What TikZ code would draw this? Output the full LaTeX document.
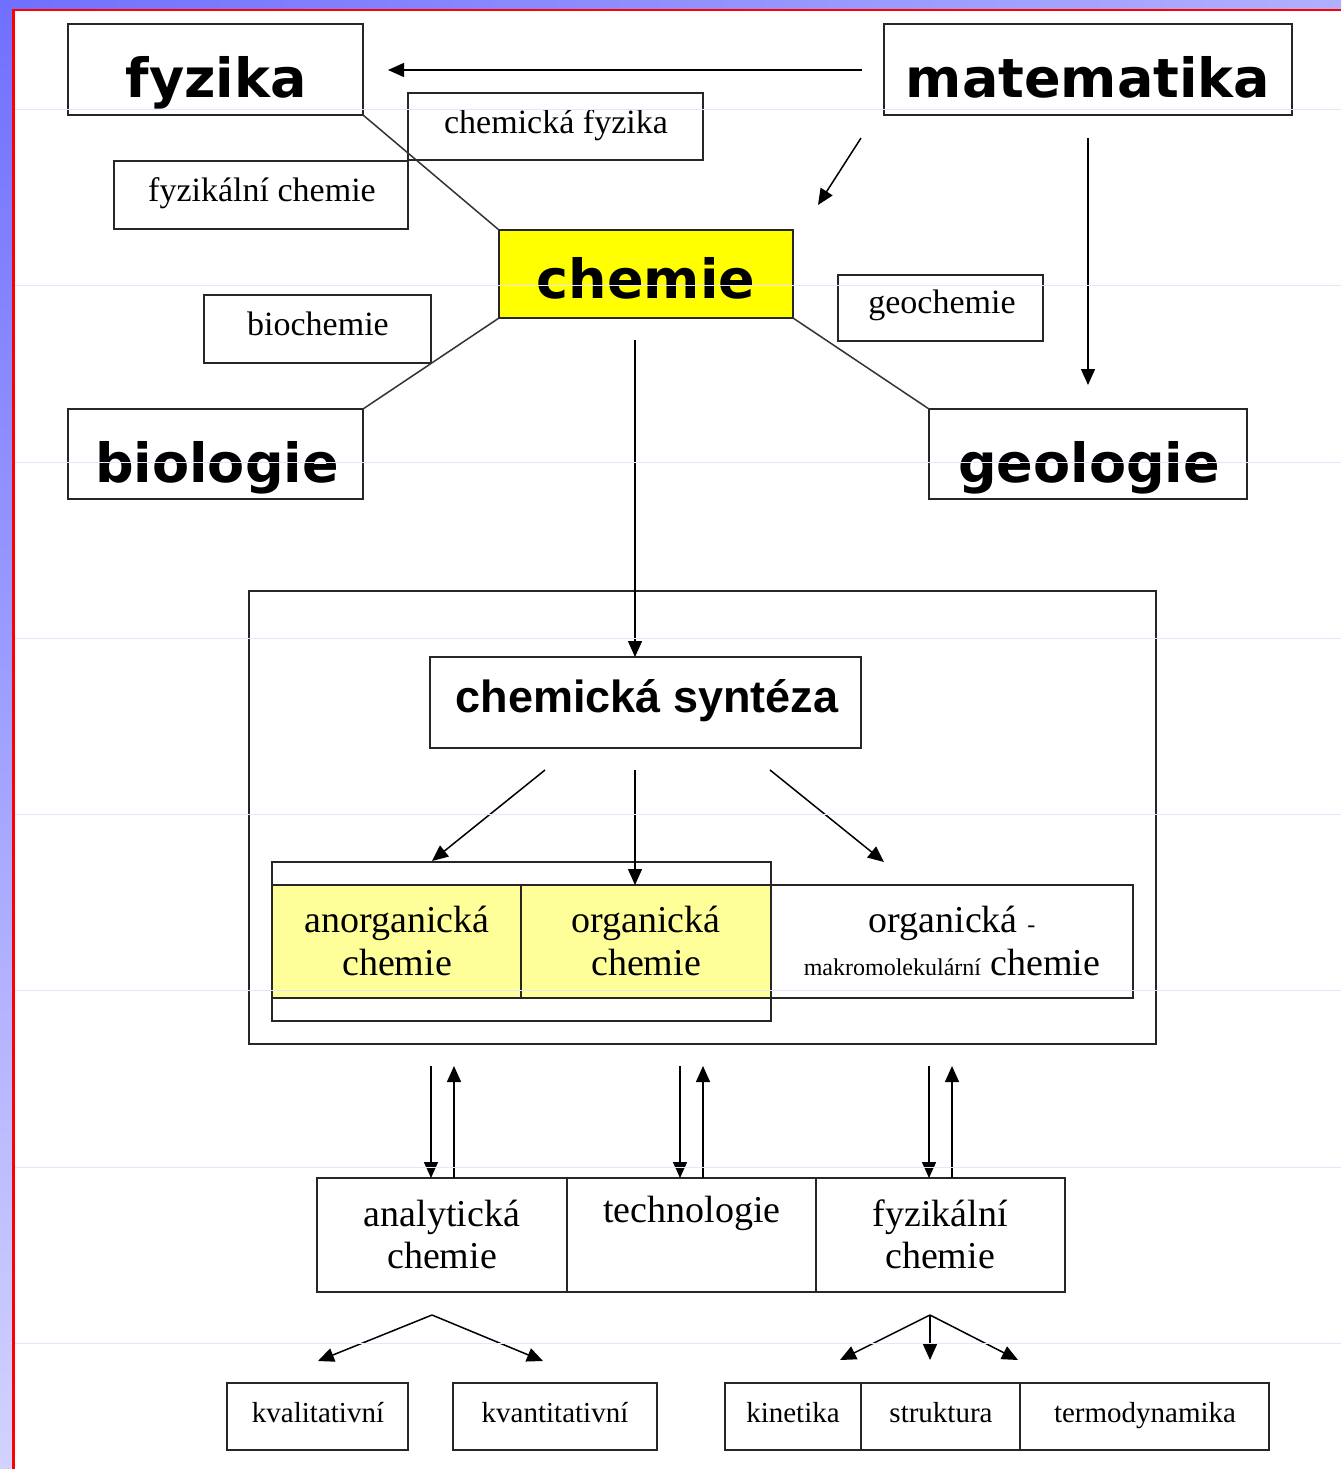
\documentclass[tikz,border=0pt]{standalone}
\usepackage{fontspec}
\setmainfont{Liberation Serif}
\newfontfamily\heavysans{DejaVu Sans}
\newfontfamily\arialsans{Liberation Sans}
\usetikzlibrary{arrows.meta}
\newcommand\rbox[6][]{\node[bx,#1,minimum width={#5-#3},minimum height={#6-#4}] (#2) at ({(#3+#5)/2},{(#4+#6)/2}) {};}
\begin{document}
\begin{tikzpicture}[x=1pt,y=-1pt,
  bx/.style={draw=black!85,line width=1.8pt,inner sep=0pt,outer sep=0pt},
  ln/.style={draw=black!80,line width=1.5pt},
  ar/.style={draw=black,line width=1.5pt,-{Triangle[length=16pt,width=14pt]}},
  heavy/.style={font=\heavysans\bfseries\fontsize{54}{60}\selectfont,inner sep=0pt},
  synt/.style={font=\arialsans\bfseries\fontsize{45}{50}\selectfont,inner sep=0pt},
  sm/.style={font=\fontsize{34}{40}\selectfont,inner sep=0pt},
  md/.style={font=\fontsize{38}{44}\selectfont,inner sep=0pt},
  tn/.style={font=\fontsize{29}{34}\selectfont,inner sep=0pt},
  faint/.style={draw={rgb,255:red,230;green,230;blue,250},line width=1pt}]
\useasboundingbox (0,0) rectangle (1341,1469);
% background frame
\fill[white] (0,0) rectangle (1341,1469);
\shade[top color={rgb,255:red,112;green,112;blue,255},bottom color={rgb,255:red,210;green,210;blue,255}] (0,0) rectangle (12,1469);
\shade[left color={rgb,255:red,112;green,112;blue,255},right color={rgb,255:red,176;green,176;blue,255}] (0,0) rectangle (1341,9);
\fill[red] (12,9) rectangle (15,1469);
\fill[red] (12,9) rectangle (1341,11.5);

% boxes
\rbox{fyz}{68}{24}{363}{115}
\rbox{mat}{884}{24}{1292}{115}
\rbox[fill=white]{chf}{408}{93}{703}{160}
\rbox{fch}{114}{161}{408}{229}
\rbox[fill={rgb,255:red,255;green,255;blue,0}]{chem}{499}{230}{793}{318}
\rbox{bioch}{204}{295}{431}{363}
\rbox{geoch}{838}{275}{1043}{341}
\rbox{bio}{68}{409}{363}{499}
\rbox{geo}{929}{409}{1247}{499}
\rbox{frame}{249}{591}{1156}{1044}
\rbox{synt}{430}{657}{861}{748}
\rbox{ao}{272}{862}{771}{1021}
\rbox[fill={rgb,255:red,255;green,255;blue,153}]{anorg}{272}{885}{521}{998}
\rbox[fill={rgb,255:red,255;green,255;blue,153}]{org}{521}{885}{771}{998}
\rbox{makro}{771}{885}{1133}{998}
\rbox{anal}{317}{1178}{567}{1292}
\rbox{tech}{567}{1178}{816}{1292}
\rbox{fyzch}{816}{1178}{1065}{1292}
\rbox{kval}{227}{1383}{408}{1450}
\rbox{kvant}{453}{1383}{657}{1450}
\rbox{kin}{725}{1383}{861}{1450}
\rbox{str}{861}{1383}{1020}{1450}
\rbox{term}{1020}{1383}{1269}{1450}

% texts
\node[heavy,anchor=base] (fyz-t) at (216,98) {fyzika};
\node[heavy,anchor=base] (mat-t) at (1088,98) {matematika};
\node[sm,anchor=base] (chf-t) at (556,134) {chemická fyzika};
\node[sm,anchor=base] (fch-t) at (262,201) {fyzikální chemie};
\node[heavy,anchor=base] (chem-t) at (646,298) {chemie};
\node[sm,anchor=base] (bioch-t) at (318,335) {biochemie};
\node[sm,anchor=base] (geoch-t) at (942,313) {geochemie};
\node[heavy,anchor=base] (bio-t) at (217,482) {biologie};
\node[heavy,anchor=base] (geo-t) at (1089,482) {geologie};
\node[synt,anchor=base] (synt-t) at (647,712) {chemická syntéza};
\node[md,anchor=base] (anorg-t1) at (397,932) {anorganická};
\node[md,anchor=base] (anorg-t2) at (397,975) {chemie};
\node[md,anchor=base] (org-t1) at (646,932) {organická};
\node[md,anchor=base] (org-t2) at (646,975) {chemie};
\node[md,anchor=base] (makro-t1) at (952,932) {organická {\fontsize{24}{28}\selectfont -}};
\node[md,anchor=base] (makro-t2) at (952,975) {{\fontsize{24}{28}\selectfont makromolekulární} chemie};
\node[md,anchor=base] (anal-t1) at (442,1226) {analytická};
\node[md,anchor=base] (anal-t2) at (442,1268) {chemie};
\node[md,anchor=base] (tech-t) at (692,1222) {technologie};
\node[md,anchor=base] (fyzch-t1) at (940,1226) {fyzikální};
\node[md,anchor=base] (fyzch-t2) at (940,1268) {chemie};
\node[tn,anchor=base] (kval-t) at (318,1422) {kvalitativní};
\node[tn,anchor=base] (kvant-t) at (555,1422) {kvantitativní};
\node[tn,anchor=base] (kin-t) at (793,1422) {kinetika};
\node[tn,anchor=base] (str-t) at (941,1422) {struktura};
\node[tn,anchor=base] (term-t) at (1145,1422) {termodynamika};

% connectors
\draw[ln] (fyz.south east) -- (chem.north west);
\draw[ln] (chem.south west) -- (bio.north east);
\draw[ln] (chem.south east) -- (geo.north west);
\coordinate (m1) at (862,70);
\coordinate (m2) at (388,70);
\draw[ar] (m1) -- (m2);
\coordinate (m3) at (861,138);
\coordinate (m4) at (818,205);
\draw[ar] (m3) -- (m4);
\coordinate (m5) at (1088,138);
\coordinate (m6) at (1088,385);
\draw[ar] (m5) -- (m6);
\coordinate (c1) at (635,340);
\draw[ar] (c1) -- (c1 |- synt.north);
\coordinate (s1) at (545,770);
\coordinate (s1e) at (432,861);
\coordinate (s2) at (635,770);
\coordinate (s3) at (770,770);
\coordinate (s3e) at (884,862);
\draw[ar] (s1) -- (s1e);
\draw[ar] (s2) -- (s2 |- org.north);
\draw[ar] (s3) -- (s3e);
% double arrows
\foreach \xd/\xu/\nm in {431/454/anal,680/703/tech,929/952/fyzch}{
  \coordinate (\nm-d) at (\xd,1066);
  \coordinate (\nm-u) at (\xu,1066);
  \draw[ar] (\nm-d) -- (\nm-d |- \nm.north);
  \draw[ar] (\nm-u |- \nm.north) -- (\nm-u);
}
\coordinate (b1) at (432,1315);
\coordinate (b1l) at (318,1361);
\coordinate (b1r) at (543,1361);
\draw[ar] (b1) -- (b1l);
\draw[ar] (b1) -- (b1r);
\coordinate (b2) at (930,1315);
\coordinate (b2l) at (840,1360);
\coordinate (b2m) at (930,1360);
\coordinate (b2r) at (1018,1360);
\draw[ar] (b2) -- (b2l);
\draw[ar] (b2) -- (b2m);
\draw[ar] (b2) -- (b2r);

% faint guide lines
\foreach \yy in {109.5,285.8,462,638.3,814.5,990.8,1167,1343.3}{
  \draw[faint] (15,\yy) -- (1341,\yy);
}
\end{tikzpicture}
\end{document}
